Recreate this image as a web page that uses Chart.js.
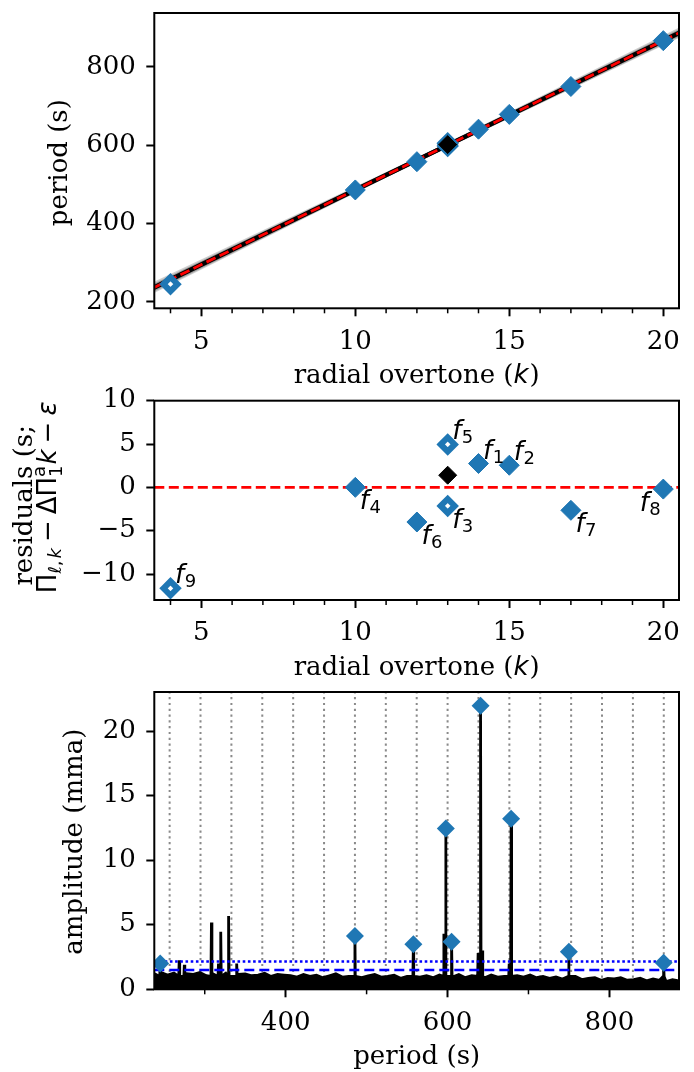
<!DOCTYPE html>
<html lang="en">
<head>
<meta charset="UTF-8">
<title>Period spacing</title>
<script src="https://cdn.jsdelivr.net/npm/chart.js"></script>
<style>
  body { margin: 0; background: #fff; }
  #pag { position: relative; width: 694px; height: 1072px; overflow: hidden; background: #fff; }
  canvas { position: absolute; left: 0; }
</style>
</head>
<body>
<div id="pag">
  <canvas id="grafico1" width="694" height="392" style="top:0px"></canvas>
  <canvas id="grafico2" width="694" height="300" style="top:380px"></canvas>
  <canvas id="grafico3" width="694" height="396" style="top:676px"></canvas>
</div>

<script>
// modes f1 .. f9
const nomes = ['1', '2', '3', '4', '5', '6', '7', '8', '9'];
const overtone = [14, 15, 13, 10, 13, 12, 17, 20, 4];
const periodos = [640.8, 678.6, 597.9, 485.6, 605.0, 557.8, 749.9, 867.0, 245.0];
const residuos = [2.75, 2.55, -2.15, 0.0, 4.95, -4.0, -2.65, -0.2, -11.65];
const amplitudes = [21.95, 13.2, 12.45, 4.13, 3.69, 3.48, 2.9, 2.05, 2.0];
const abertos = [false, false, true, false, true, false, false, false, true];

// mean of f3 and f5 (black diamond)
const mediaK = 13, mediaPeriodo = 601.4, mediaResiduo = 1.4;

// linear fit and a few samples (grey band)
const deltaPi = 38.16, epsilon = 104.0;
const amostrasDeltaPi = [37.2, 37.6, 37.9, 38.4, 38.7, 39.1, 38.0, 38.3];
const amostrasEpsilon = [116.5, 110.6, 107.6, 100.7, 97.0, 92.6, 105.6, 102.6];

// periodogram: noise envelope (every 8 s from 238 s) and other peaks
const ruidoInicio = 238, ruidoPasso = 8;
const ruido = [1.2, 1.3, 1.1, 1.25, 1.0, 1.2, 1.15, 1.3, 1.05, 1.2, 1.1, 1.25, 1.0, 1.15, 1.2, 1.05, 1.1, 1.25, 1.0, 1.15, 1.1,
  1.05, 0.95, 1.15, 1.0, 1.1, 0.9, 1.05, 1.2, 0.95, 1.0, 1.1, 0.9, 1.05, 1.15, 0.95, 1.0, 1.1, 0.85, 1.0, 1.15,
  0.95, 1.05, 0.9, 1.1, 1.0, 0.95, 1.15, 0.9, 1.05, 1.0, 0.9, 1.1, 0.95, 1.0, 0.85, 1.05, 0.95, 1.1,
  0.9, 1.0, 0.85, 0.95, 0.8, 0.9, 1.0, 0.75, 0.85, 0.9, 0.7, 0.85, 0.8, 0.9, 0.7, 0.75, 0.85, 0.65, 0.8, 0.7, 0.6, 0.75, 0.65];
const outrosPeriodos = [268.5, 274.8, 308.3, 317.0, 319.8, 329.5, 339.5, 595.5, 637.8, 643.2, 676.2];
const outrasAmplitudes = [2.25, 1.9, 5.17, 2.0, 4.45, 5.67, 2.0, 4.3, 2.8, 3.0, 2.0];

// detection thresholds
const limiarPontilhado = 2.15, limiarTracejado = 1.5;

// axes
const kMin = 3.474, kMax = 20.51;
const marcasK = [5, 10, 15, 20];
const marcasKMenores = [4, 6, 7, 8, 9, 11, 12, 13, 14, 16, 17, 18, 19];
const marcasPeriodo = [200, 400, 600, 800];
const marcasResiduo = [-10, -5, 0, 5, 10];
const perMin = 237.7, perMax = 886;
const marcasPer = [400, 600, 800];
const marcasPerMenores = [300, 500, 700];
const marcasAmp = [0, 5, 10, 15, 20];

const azul = '#1f77b4';
const serif26 = '26px "DejaVu Serif"';
const sans26 = '26px "DejaVu Sans"';
const it26 = 'italic 26px "DejaVu Sans"';
const sans18 = '18px "DejaVu Sans"';
const it18 = 'italic 18px "DejaVu Sans"';

function desenhaRico(ctx, partes, x, y, rot, alinhamento) {
  ctx.save();
  ctx.translate(x, y);
  if (rot) ctx.rotate(rot);
  ctx.textBaseline = 'alphabetic';
  ctx.textAlign = 'left';
  ctx.fillStyle = '#000';
  let total = 0;
  for (const p of partes) {
    ctx.font = p.f;
    p.larg = ctx.measureText(p.t).width;
    total += (p.sem ? 0 : p.larg) + (p.esp || 0);
  }
  let cx = alinhamento === 'right' ? -total : alinhamento === 'left' ? 0 : -total / 2;
  for (const p of partes) {
    ctx.font = p.f;
    ctx.fillText(p.t, cx, p.dy || 0);
    cx += (p.sem ? 0 : p.larg) + (p.esp || 0);
  }
  ctx.restore();
}

// frame, minor ticks and axis titles
const extras = {
  id: 'extras',
  afterDraw(chart, args, opts) {
    const { ctx, chartArea, scales } = chart;
    ctx.save();
    ctx.strokeStyle = '#000';
    ctx.lineWidth = 1.5;
    (opts.menores || []).forEach(v => {
      const px = scales.x.getPixelForValue(v);
      ctx.beginPath();
      ctx.moveTo(px, chartArea.bottom);
      ctx.lineTo(px, chartArea.bottom + 5);
      ctx.stroke();
    });
    ctx.lineWidth = 2;
    ctx.strokeRect(chartArea.left, chartArea.top, chartArea.right - chartArea.left, chartArea.bottom - chartArea.top);
    ctx.restore();
    const meioX = (chartArea.left + chartArea.right) / 2;
    const meioY = (chartArea.top + chartArea.bottom) / 2;
    if (opts.tituloX) desenhaRico(ctx, opts.tituloX, meioX, chartArea.bottom + 75, 0);
    (opts.tituloY || []).forEach(l => desenhaRico(ctx, l.partes, l.x, meioY + l.dy, -Math.PI / 2));
    if (opts.rotulos) opts.rotulos(chart);
  }
};

function eixo(min, max, marcas, tamanho, posicao) {
  return {
    type: 'linear', position: posicao, min: min, max: max,
    afterBuildTicks: s => { s.ticks = marcas.map(v => ({ value: v })); },
    afterFit: s => {
      if (posicao === 'left') s.width = tamanho; else s.height = tamanho;
      s.paddingTop = 0; s.paddingBottom = 0; s.paddingLeft = 0; s.paddingRight = 0;
    },
    grid: { display: true, drawOnChartArea: false, drawTicks: true, tickLength: 8, tickWidth: 2, tickColor: '#000' },
    border: { display: false },
    ticks: {
      color: '#000', font: { family: 'DejaVu Serif', size: 26 },
      padding: posicao === 'left' ? 10.5 : 10, maxRotation: 0, autoSkip: false,
      callback: v => (v < 0 ? '\u2212' + Math.abs(v) : String(v))
    }
  };
}

function losangos(xs, ys, cor, aberto, raio, ordem) {
  return {
    data: xs.map((x, i) => ({ x: x, y: ys[i] })),
    showLine: false, order: ordem, pointStyle: 'rectRot',
    pointRadius: aberto ? 7 : raio,
    pointBackgroundColor: aberto ? '#fff' : cor,
    pointBorderColor: aberto ? azul : cor,
    pointBorderWidth: aberto ? 6 : 1,
    clip: false
  };
}

function linha(pontos, cor, largura, traco, ordem) {
  return {
    data: pontos, showLine: true, order: ordem, borderColor: cor, borderWidth: largura,
    borderDash: traco || [], pointRadius: 0, fill: false, tension: 0
  };
}

const tituloK = [{ t: 'radial overtone (', f: serif26 }, { t: 'k', f: it26, esp: 1 }, { t: ')', f: serif26 }];
const base = { responsive: false, animation: false, devicePixelRatio: 1, events: [] };

// ---------- panel 1: period vs k ----------
const idxF = nomes.map((n, i) => i).filter(i => !abertos[i]);
const idxA = nomes.map((n, i) => i).filter(i => abertos[i]);

const ds1 = [];
ds1.push(losangos([mediaK], [mediaPeriodo], '#000', false, 10, 0));
ds1[0].pointBorderColor = azul;
ds1.push(losangos(idxA.map(i => overtone[i]), idxA.map(i => periodos[i]), azul, true, 10, 1));
ds1.push(losangos(idxF.map(i => overtone[i]), idxF.map(i => periodos[i]), azul, false, 10, 2));
ds1.push(linha([{ x: kMin, y: deltaPi * kMin + epsilon }, { x: kMax, y: deltaPi * kMax + epsilon }], '#ff0000', 2.8, [10, 4.5], 3));
ds1.push(linha([{ x: kMin, y: deltaPi * kMin + epsilon }, { x: kMax, y: deltaPi * kMax + epsilon }], '#000', 4.5, null, 4));
amostrasDeltaPi.forEach((d, j) => {
  const e = amostrasEpsilon[j];
  ds1.push(linha([{ x: kMin, y: d * kMin + e }, { x: kMax, y: d * kMax + e }], 'rgba(60,60,60,0.25)', 4, null, 5 + j));
});

new Chart(document.getElementById('grafico1'), {
  type: 'scatter',
  data: { datasets: ds1 },
  options: Object.assign({}, base, {
    layout: { padding: { left: 0, right: 15, top: 10.7, bottom: 0 } },
    scales: {
      x: eixo(kMin, kMax, marcasK, 392 - 308.3, 'bottom'),
      y: eixo(183.3, 937.6, marcasPeriodo, 154.3, 'left')
    },
    plugins: {
      legend: { display: false }, tooltip: { enabled: false },
      extras: {
        menores: marcasKMenores,
        tituloX: tituloK,
        tituloY: [{ x: 66.5, dy: 2, partes: [{ t: 'period (s)', f: serif26 }] }]
      }
    }
  }),
  plugins: [extras]
});

// ---------- panel 2: residuals ----------
const posRotulo = ['ad', 'ad', 'ab', 'ab', 'ad', 'ab', 'ab', 'ae', 'ad'];
const ds2 = [];
ds2.push(losangos([mediaK], [mediaResiduo], '#000', false, 9, 0));
ds2.push(losangos(idxA.map(i => overtone[i]), idxA.map(i => residuos[i]), azul, true, 10, 1));
ds2.push(losangos(idxF.map(i => overtone[i]), idxF.map(i => residuos[i]), azul, false, 10, 2));
ds2.push(linha([{ x: kMin, y: 0 }, { x: kMax, y: 0 }], '#ff0000', 2.8, [10, 4.5], 3));

new Chart(document.getElementById('grafico2'), {
  type: 'scatter',
  data: { datasets: ds2 },
  options: Object.assign({}, base, {
    layout: { padding: { left: 0, right: 15, top: 20.7, bottom: 0 } },
    scales: {
      x: eixo(kMin, kMax, marcasK, 300 - 220, 'bottom'),
      y: eixo(-13.0, 10.0, marcasResiduo, 154.3, 'left')
    },
    plugins: {
      legend: { display: false }, tooltip: { enabled: false },
      extras: {
        menores: marcasKMenores,
        tituloX: tituloK,
        tituloY: [
          { x: 32, dy: 5, partes: [{ t: 'residuals (s;', f: serif26 }] },
          { x: 56, dy: -3, partes: [
            { t: 'Π', f: sans26 },
            { t: 'ℓ', f: it18, dy: 5 }, { t: ',', f: sans18, dy: 5, esp: 2 }, { t: 'k', f: it18, dy: 5, esp: 6 },
            { t: '−', f: sans26, esp: 6 },
            { t: 'ΔΠ', f: sans26 },
            { t: 'a', f: sans18, dy: -11, sem: true },
            { t: '1', f: sans18, dy: 6, esp: 1 },
            { t: 'k', f: it26, esp: 6 },
            { t: '−', f: sans26, esp: 6 },
            { t: 'ε', f: it26 }
          ] }
        ],
        rotulos: chart => {
          const sx = chart.scales.x, sy = chart.scales.y;
          nomes.forEach((n, i) => {
            const px = sx.getPixelForValue(overtone[i]);
            const py = sy.getPixelForValue(residuos[i]);
            const partes = [{ t: 'f', f: it26, esp: 0.5 }, { t: n, f: sans18, dy: 4 }];
            const p = posRotulo[i];
            if (p === 'ad') desenhaRico(chart.ctx, partes, px + 4.5, py - 5, 0, 'left');
            else if (p === 'ab') desenhaRico(chart.ctx, partes, px + 4.5, py + 22, 0, 'left');
            else desenhaRico(chart.ctx, partes, px - 2.5, py + 22, 0, 'right');
          });
        }
      }
    }
  }),
  plugins: [extras]
});

// ---------- panel 3: periodogram ----------
const espectro = [];
ruido.forEach((a, i) => espectro.push({ x: ruidoInicio + i * ruidoPasso, y: a }));
periodos.concat(outrosPeriodos).forEach((p, i) => {
  const a = i < periodos.length ? amplitudes[i] : outrasAmplitudes[i - periodos.length];
  espectro.push({ x: p - 0.6, y: 1.0 }, { x: p, y: a }, { x: p + 0.6, y: 1.0 });
});
espectro.sort((a, b) => a.x - b.x);

const ds3 = [];
ds3.push(losangos(periodos, amplitudes, azul, false, 9, 0));
ds3[0].clip = undefined;
ds3[0].pointBorderWidth = 0;
ds3.push(linha([{ x: perMin, y: limiarPontilhado }, { x: perMax, y: limiarPontilhado }], '#0000ff', 2.6, [2.6, 2.6], 1));
ds3.push(linha([{ x: perMin, y: limiarTracejado }, { x: perMax, y: limiarTracejado }], '#0000ff', 2.6, [10, 5], 2));
const esp = linha(espectro, '#000', 2.8, null, 3);
esp.fill = 'origin';
esp.backgroundColor = '#000';
ds3.push(esp);
for (let k = 4; k <= 20; k++) {
  const p = deltaPi * k + epsilon;
  ds3.push(linha([{ x: p, y: 0 }, { x: p, y: 23.02 }], '#8a8a8a', 2, [2.2, 3.6], 4 + k));
}

new Chart(document.getElementById('grafico3'), {
  type: 'scatter',
  data: { datasets: ds3 },
  options: Object.assign({}, base, {
    layout: { padding: { left: 0, right: 15, top: 16, bottom: 0 } },
    scales: {
      x: eixo(perMin, perMax, marcasPer, 396 - 313.3, 'bottom'),
      y: eixo(0, 23.02, marcasAmp, 154.3, 'left')
    },
    plugins: {
      legend: { display: false }, tooltip: { enabled: false },
      extras: {
        menores: marcasPerMenores,
        tituloX: [{ t: 'period (s)', f: serif26 }],
        tituloY: [{ x: 82, dy: 1, partes: [{ t: 'amplitude (mma)', f: serif26 }] }]
      }
    }
  }),
  plugins: [extras]
});
</script>
</body>
</html>
